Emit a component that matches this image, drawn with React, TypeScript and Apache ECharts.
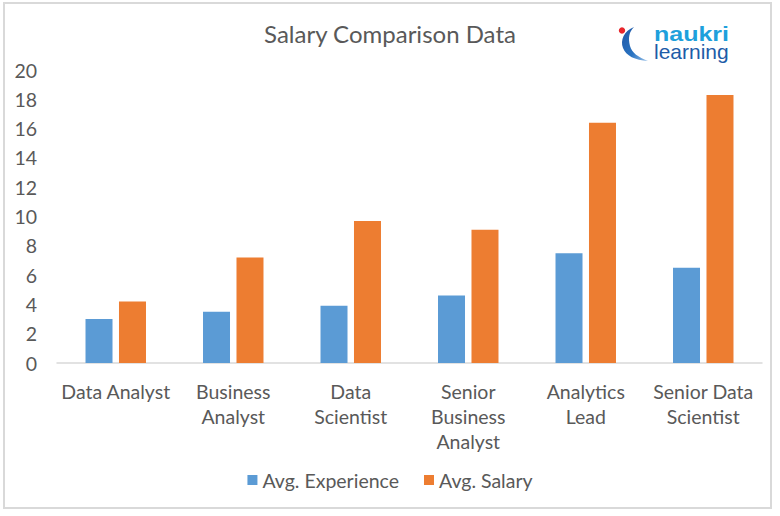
import React, { useEffect, useRef } from "react";
import * as echarts from "echarts";

const categories = [
  "Data Analyst",
  "Business\nAnalyst",
  "Data\nScientist",
  "Senior\nBusiness\nAnalyst",
  "Analytics\nLead",
  "Senior Data\nScientist",
];
const avgExperience = [3.0, 3.5, 3.9, 4.6, 7.5, 6.5];
const avgSalary = [4.2, 7.2, 9.7, 9.1, 16.4, 18.3];
const seriesNames = ["Avg. Experience", "Avg. Salary"];
const titleText = "Salary Comparison Data";

const FONT = "Lato, 'Open Sans', sans-serif";
const TXT = "#595959";
const LOGO_FONT = "'Liberation Sans', Arial, sans-serif";

echarts.graphic.registerShape(
  "swoosh",
  echarts.graphic.extendPath(
    "M 22 9 C 12 13, 8 22, 11 30 C 14 38, 23 42, 36 43 C 26 39, 20 35, 18 28 C 16 20, 17 14, 22 9 Z",
    {}
  )
);

export default function App() {
  const ref = useRef<HTMLDivElement>(null);
  useEffect(() => {
    if (!ref.current) return;
    const chart = echarts.init(ref.current, null, { renderer: "svg" });
    chart.setOption({
      animation: false,
      backgroundColor: "#ffffff",
      title: {
        text: titleText,
        left: "center",
        top: 16,
        textStyle: { fontFamily: FONT, fontSize: 24, fontWeight: "normal", color: TXT },
      },
      grid: { left: 57, right: 18, top: 70, bottom: 153, containLabel: false },
      legend: {
        data: seriesNames,
        bottom: 21,
        left: "center",
        itemWidth: 10,
        itemHeight: 10,
        itemGap: 25,
        icon: "rect",
        textStyle: { fontFamily: FONT, fontSize: 19.5, color: TXT },
      },
      xAxis: {
        type: "category",
        data: categories,
        axisLine: { lineStyle: { color: "#d9d9d9", width: 1.5 } },
        axisTick: { show: false },
        axisLabel: {
          interval: 0,
          fontFamily: FONT,
          fontSize: 19.5,
          lineHeight: 25,
          color: TXT,
          margin: 16,
        },
      },
      yAxis: {
        type: "value",
        min: 0,
        max: 20,
        interval: 2,
        splitLine: { show: false },
        axisLine: { show: false },
        axisTick: { show: false },
        axisLabel: { fontFamily: FONT, fontSize: 19.5, color: TXT, margin: 20 },
      },
      series: [
        {
          name: seriesNames[0],
          type: "bar",
          data: avgExperience,
          barWidth: 27,
          barGap: "24%",
          itemStyle: { color: "#5b9bd5" },
        },
        {
          name: seriesNames[1],
          type: "bar",
          data: avgSalary,
          barWidth: 27,
          itemStyle: { color: "#ed7d31" },
        },
      ],
      graphic: [
        {
          type: "rect",
          shape: { x: 4, y: 3, width: 767, height: 505 },
          style: { fill: "none", stroke: "#d9d9d9", lineWidth: 2 },
          silent: true,
        },
        {
          type: "swoosh",
          x: 612,
          y: 18,
          style: {
            fill: new echarts.graphic.LinearGradient(0, 0, 1, 1, [
              { offset: 0, color: "#1f56a5" },
              { offset: 0.6, color: "#2a74c2" },
              { offset: 1, color: "#9cc3ea" },
            ]),
          },
        },
        {
          type: "circle",
          shape: { cx: 622, cy: 30.5, r: 3.2 },
          style: { fill: "#e8262c" },
        },
        {
          type: "text",
          x: 654,
          y: 34.5,
          scaleX: 1.25,
          style: {
            text: "naukri",
            fontFamily: LOGO_FONT,
            fontWeight: "bold",
            fontSize: 20,
            fill: "#1ea0dc",
            verticalAlign: "middle",
          },
        },
        {
          type: "text",
          x: 654,
          y: 51.5,
          scaleX: 1.05,
          style: {
            text: "learning",
            fontFamily: LOGO_FONT,
            fontSize: 20,
            fill: "#1d5ca8",
            verticalAlign: "middle",
          },
        },
      ],
    });
    return () => chart.dispose();
  }, []);
  return (
    <div
      ref={ref}
      style={{ position: "absolute", left: 0, top: 0, width: 780, height: 516 }}
    />
  );
}
